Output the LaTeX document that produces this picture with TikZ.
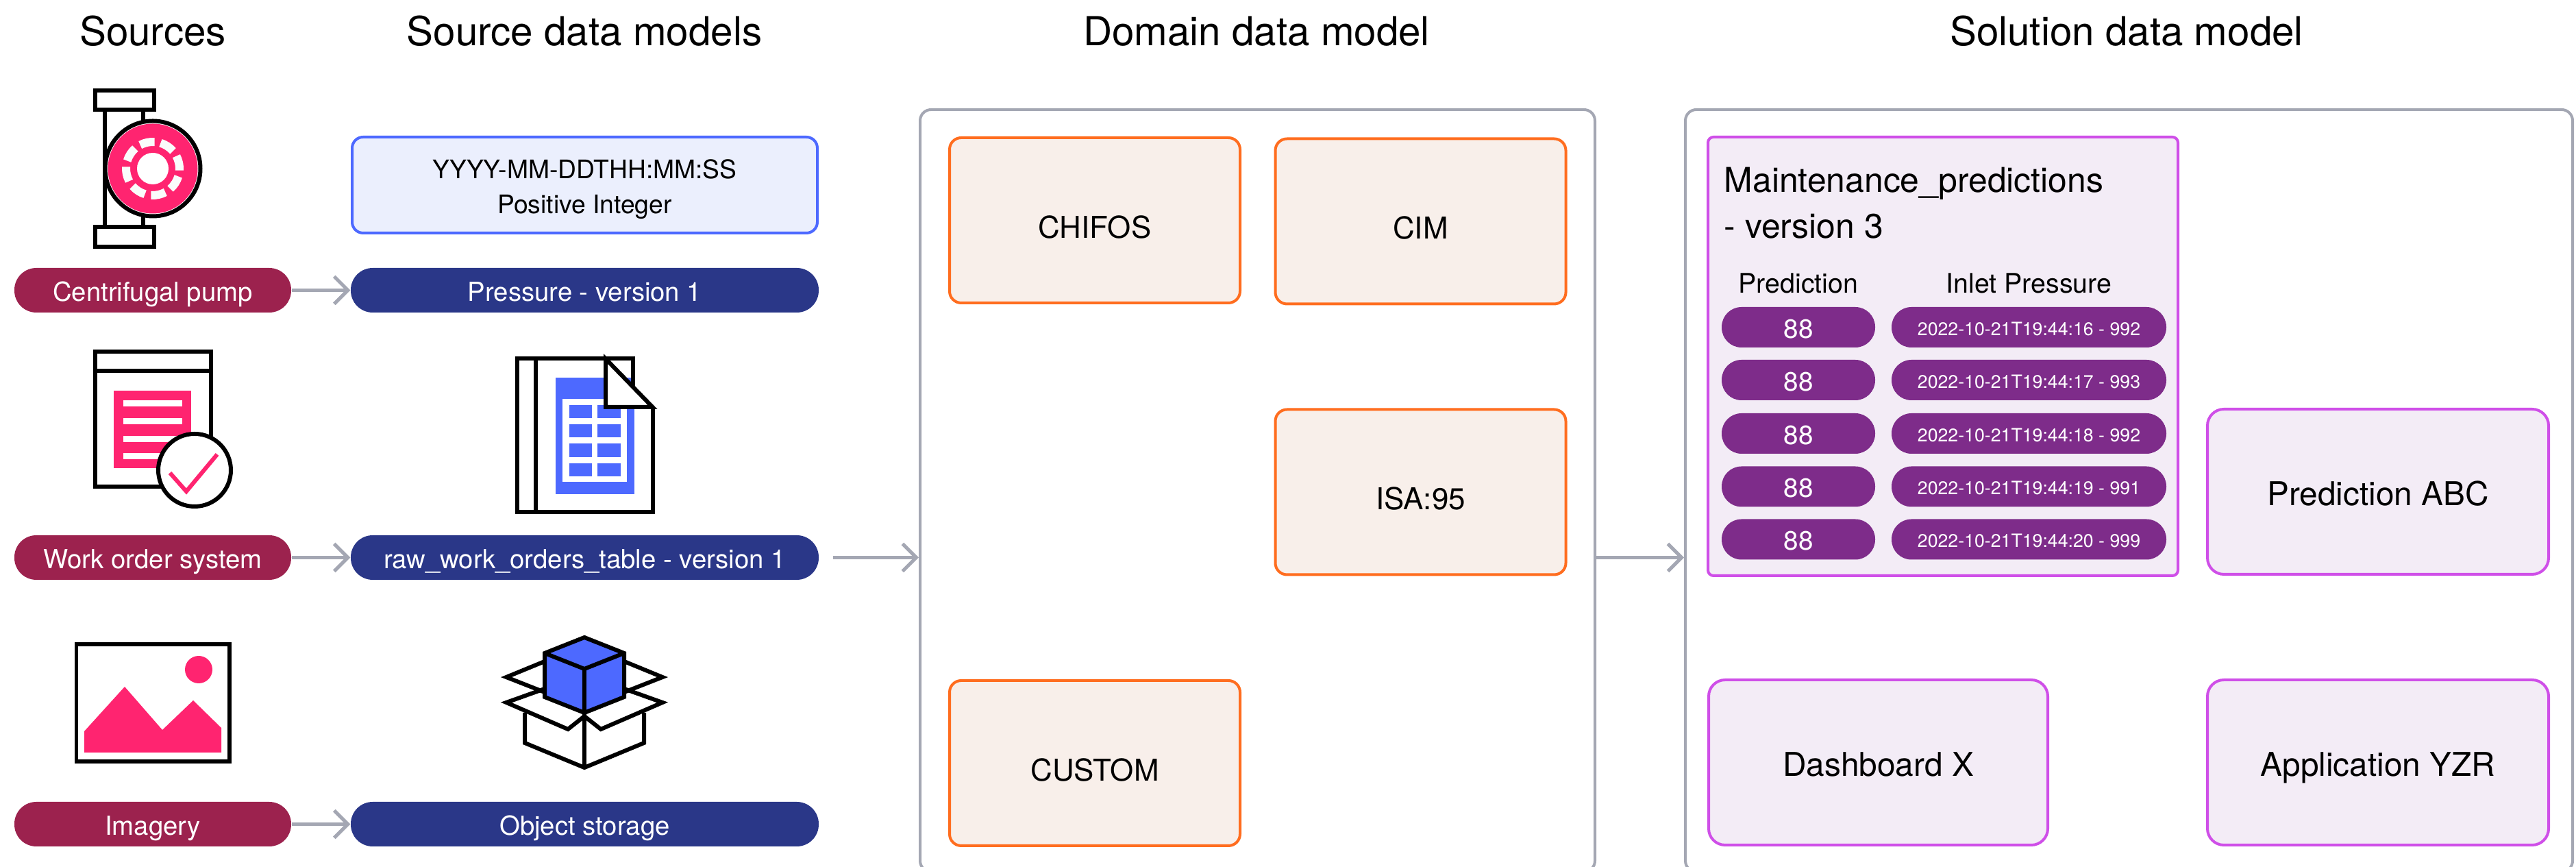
\documentclass[tikz,border=0pt]{standalone}
\usepackage{fontspec}
\setmainfont{TeX Gyre Heros}
\usetikzlibrary{arrows.meta}

\definecolor{crimson}{HTML}{9C224E}
\definecolor{navy}{HTML}{2A3788}
\definecolor{plum}{HTML}{7E2C8A}
\definecolor{pink}{HTML}{FF2470}
\definecolor{iconblue}{HTML}{4D69FF}
\definecolor{bluefill}{HTML}{EBEFFD}
\definecolor{tangerine}{HTML}{FF6D1F}
\definecolor{peach}{HTML}{F8EFEA}
\definecolor{orchid}{HTML}{CF4FE8}
\definecolor{lilac}{HTML}{F3ECF6}
\definecolor{steel}{HTML}{A4A7B3}

\tikzset{
	>={Straight Barb[length=0.2cm,width=0.4cm]},
	heading/.style={anchor=base,inner sep=0,font=\fontsize{16.6}{20}\selectfont},
	pill/.style={text=white,inner sep=0,rounded corners=0.32cm,minimum height=0.65cm,text height=9pt,text depth=0pt,font=\fontsize{10.9}{13}\selectfont},
	sourcepill/.style={pill,fill=crimson,minimum width=4.04cm},
	modelpill/.style={pill,fill=navy,minimum width=6.83cm},
	panel/.style={draw=steel,line width=0.04cm,rounded corners=0.16cm,inner sep=0,minimum width=#1,minimum height=11.12cm},
	domainbox/.style={draw=tangerine,fill=peach,line width=0.04cm,rounded corners=0.17cm,inner sep=0,minimum width=4.24cm,minimum height=2.41cm,text height=14.6pt,text depth=0pt,font=\fontsize{12.5}{15}\selectfont},
	solutionbox/.style={draw=orchid,fill=lilac,line width=0.04cm,rounded corners=0.24cm,inner sep=0,minimum width=4.95cm,minimum height=2.41cm,text height=11.4pt,text depth=0pt,font=\fontsize{13.6}{16}\selectfont},
	predpill/.style={fill=plum,text=white,inner sep=0,rounded corners=0.29cm,minimum width=2.24cm,minimum height=0.59cm,text height=9pt,text depth=0pt,font=\fontsize{11}{13}\selectfont},
	valuepill/.style={predpill,minimum width=4.01cm,text height=6.6pt,font=\fontsize{7.6}{9}\selectfont},
	columnlabel/.style={anchor=base,inner sep=0,font=\fontsize{11.2}{13}\selectfont},
	flow/.style={->,draw=steel,line width=0.05cm},
	iconline/.style={line width=0.06cm,line join=miter}
}

\begin{document}
\begin{tikzpicture}
	\useasboundingbox (0,0) rectangle (37.6,12.65);

	% Column headings
	\node[heading] (sources) at (2.23,11.98) {Sources};
	\node[heading] (sourcemodels) at (8.53,11.98) {Source data models};
	\node[heading] (domaintitle) at (18.34,11.98) {Domain data model};
	\node[heading] (solutiontitle) at (31.04,11.98) {Solution data model};

	% Icon: centrifugal pump
	\begin{scope}[shift={(2.23,10.19)}]
		\draw[iconline] (-0.845,0.855) rectangle (0.015,1.135);
		\draw[iconline] (-0.845,-1.145) rectangle (0.015,-0.855);
		\draw[iconline] (-0.7,0.83) -- (-0.7,-0.83);
		\draw[iconline] (-0.14,0.83) -- (-0.14,-0.83);
		\draw[iconline,fill=white] (0,0) circle (0.695);
		\fill[pink] (0,0) circle (0.655);
		\fill[white] (0,0) circle (0.23);
		\draw[line width=0.12cm,color=white!95!steel]
			(118:0.39) arc (118:86:0.39)
			(73:0.39) arc (73:41:0.39)
			(28:0.39) arc (28:-4:0.39)
			(-17:0.39) arc (-17:-49:0.39)
			(-62:0.39) arc (-62:-94:0.39)
			(-107:0.39) arc (-107:-139:0.39)
			(-152:0.39) arc (-152:-184:0.39)
			(163:0.39) arc (163:131:0.39);
	\end{scope}

	% Icon: work order system
	\begin{scope}[shift={(2.23,6.38)}]
		\draw[iconline] (-0.845,-0.835) rectangle (0.845,1.135);
		\draw[iconline] (-0.845,0.86) -- (0.845,0.86);
		\fill[pink] (-0.57,-0.56) rectangle (0.56,0.57);
		\fill[white] (-0.43,0.34) rectangle (0.43,0.43);
		\fill[white] (-0.43,0.08) rectangle (0.43,0.17);
		\fill[white] (-0.43,-0.18) rectangle (0.43,-0.09);
		\fill[white] (-0.43,-0.43) rectangle (0.43,-0.34);
		\draw[iconline,fill=white] (0.61,-0.59) circle (0.53);
		\draw[pink,iconline] (0.25,-0.63) -- (0.49,-0.9) -- (0.94,-0.36);
	\end{scope}

	% Icon: imagery
	\begin{scope}[shift={(2.23,2.39)}]
		\draw[iconline] (-1.115,-0.855) rectangle (1.12,0.855);
		\fill[pink] (0.67,0.49) circle (0.2);
		\fill[pink] (-1,-0.72) -- (-1,-0.41) -- (-0.41,0.24) -- (0.14,-0.39)
			-- (0.59,0.04) -- (1,-0.36) -- (1,-0.72) -- cycle;
	\end{scope}

	% Icon: table document
	\begin{scope}[shift={(8.53,6.3)}]
		\fill[iconblue] (-0.42,-0.86) rectangle (0.73,0.84);
		\fill[white] (-0.32,-0.68) rectangle (0.62,0.53);
		\fill[iconblue] (-0.22,0.25) rectangle (0.11,0.44);
		\fill[iconblue] (0.19,0.25) rectangle (0.53,0.44);
		\fill[iconblue] (-0.22,-0.03) rectangle (0.11,0.16);
		\fill[iconblue] (0.19,-0.03) rectangle (0.53,0.16);
		\fill[iconblue] (-0.22,-0.32) rectangle (0.11,-0.12);
		\fill[iconblue] (0.19,-0.32) rectangle (0.53,-0.12);
		\fill[iconblue] (-0.22,-0.6) rectangle (0.11,-0.41);
		\fill[iconblue] (0.19,-0.6) rectangle (0.53,-0.41);
		\draw[iconline] (0.71,0.72) -- (0.71,1.115) -- (-0.985,1.115) -- (-0.985,-1.125)
			-- (0.995,-1.125) -- (0.995,0.41);
		\draw[iconline] (-0.71,1.115) -- (-0.71,-1.125);
		\draw[iconline,fill=white] (0.31,1.115) -- (0.31,0.41) -- (0.995,0.41) -- cycle;
	\end{scope}

	% Icon: object storage box
	\begin{scope}[shift={(8.53,2.4)}]
		\draw[iconline] (-0.58,0.6) -- (-1.14,0.37) -- (-0.58,0.15);
		\draw[iconline] (0.58,0.6) -- (1.14,0.37) -- (0.58,0.15);
		\draw[iconline,fill=iconblue] (0,0.95) -- (-0.58,0.72) -- (-0.58,0.08) -- (0,-0.15)
			-- (0.58,0.08) -- (0.58,0.72) -- cycle;
		\draw[iconline] (-0.58,0.72) -- (0,0.49) -- (0.58,0.72);
		\draw[iconline] (0,0.49) -- (0,-0.95);
		\draw[iconline] (-0.87,-0.15) -- (-0.87,-0.59) -- (0,-0.95) -- (0.87,-0.59) -- (0.87,-0.15);
		\draw[iconline] (-0.58,0.2) -- (-1.14,0) -- (-0.24,-0.39) -- (0,-0.2) -- (0.24,-0.39)
			-- (1.14,0) -- (0.58,0.2);
	\end{scope}

	% Sources and their data models
	\node[draw=iconblue,fill=bluefill,line width=0.04cm,rounded corners=0.16cm,inner sep=0,
		minimum width=6.79cm,minimum height=1.4cm] (formats) at (8.535,9.95) {};
	\node[inner sep=0,align=center,font=\fontsize{10.6}{14.4}\selectfont] (formatstext) at (8.535,9.89)
		{YYYY-MM-DDTHH:MM:SS\\Positive Integer};
	\node[sourcepill] (pump) at (2.23,8.415) {Centrifugal pump};
	\node[modelpill] (pressure) at (8.535,8.415) {Pressure - version 1};
	\node[sourcepill] (workorder) at (2.23,4.515) {Work order system};
	\node[modelpill] (rawtable) at (8.535,4.515) {raw\_work\_orders\_table - version 1};
	\node[sourcepill] (imagery) at (2.23,0.625) {Imagery};
	\node[modelpill] (storage) at (8.535,0.625) {Object storage};

	% Domain data model
	\node[panel=9.85cm] (domain) at (18.355,5.49) {};
	\node[domainbox] (chifos) at (15.98,9.435) {CHIFOS};
	\node[domainbox] (cim) at (20.735,9.42) {CIM};
	\node[domainbox] (isa) at (20.735,5.47) {ISA:95};
	\node[domainbox] (custom) at (15.98,1.515) {CUSTOM};

	% Solution data model
	\node[panel=12.95cm] (solution) at (31.075,5.49) {};
	\node[solutionbox,rounded corners=0.08cm,minimum width=6.86cm,minimum height=6.4cm] (maintenance) at (28.36,7.45) {};
	\node[anchor=west,inner sep=0,align=left,font=\fontsize{14.2}{19}\selectfont] (maintitle) at (25.16,9.69)
		{Maintenance\_predictions\\- version 3};
	\node[columnlabel] (predlabel) at (26.25,8.37) {Prediction};
	\node[columnlabel] (inletlabel) at (29.615,8.37) {Inlet Pressure};

	\node[predpill] (predA) at (26.25,7.875) {88};
	\node[valuepill] (valueA) at (29.615,7.875) {2022-10-21T19:44:16 - 992};
	\node[predpill] (predB) at (26.25,7.105) {88};
	\node[valuepill] (valueB) at (29.615,7.105) {2022-10-21T19:44:17 - 993};
	\node[predpill] (predC) at (26.25,6.325) {88};
	\node[valuepill] (valueC) at (29.615,6.325) {2022-10-21T19:44:18 - 992};
	\node[predpill] (predD) at (26.25,5.55) {88};
	\node[valuepill] (valueD) at (29.615,5.55) {2022-10-21T19:44:19 - 991};
	\node[predpill] (predE) at (26.25,4.78) {88};
	\node[valuepill] (valueE) at (29.615,4.78) {2022-10-21T19:44:20 - 999};

	\node[solutionbox,minimum width=4.98cm] (predabc) at (34.71,5.475) {Prediction ABC};
	\node[solutionbox] (dashboard) at (27.415,1.525) {Dashboard X};
	\node[solutionbox,minimum width=4.98cm] (application) at (34.71,1.525) {Application YZR};

	% Connectors
	\draw[flow] (pump) -- (pressure);
	\draw[flow] (workorder) -- (rawtable);
	\draw[flow] (imagery) -- (storage);
	\draw[flow,shorten <=0.2cm] (rawtable.east) -- (domain.west |- rawtable.east);
	\draw[flow] (domain.east |- rawtable.east) -- (solution.west |- rawtable.east);
\end{tikzpicture}
\end{document}
